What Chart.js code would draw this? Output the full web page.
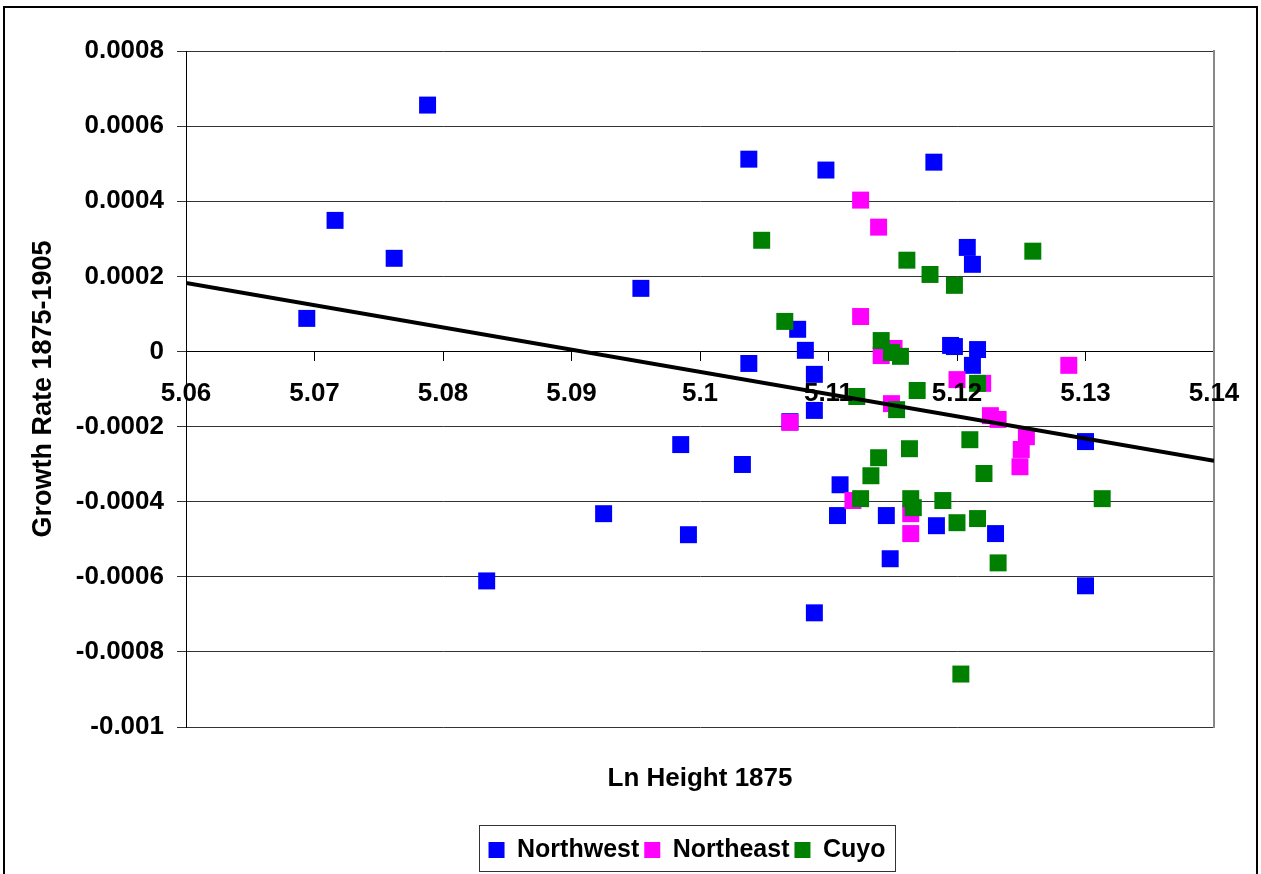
<!DOCTYPE html>
<html>
<head>
<meta charset="utf-8">
<title>Growth Rate 1875-1905 vs Ln Height 1875</title>
<script src="https://cdn.jsdelivr.net/npm/chart.js@4.4.1/dist/chart.umd.min.js"></script>
<style>
  body { margin: 0; background: #fff; }
  canvas { display: block; }
</style>
</head>
<body>
<canvas id="chart" width="1261" height="874"></canvas>
<script>
/* ================= DATA ================= */
const northwestX = [5.0694, 5.0716, 5.0762, 5.0788, 5.0834, 5.0925, 5.0954, 5.0985, 5.0991, 5.1033,
                    5.1038, 5.1038, 5.1076, 5.1082, 5.1089, 5.1089, 5.1098, 5.1070, 5.1109, 5.1107,
                    5.1145, 5.1148, 5.1089, 5.1182, 5.1208, 5.1212, 5.1195, 5.1198, 5.1216, 5.1212,
                    5.1184, 5.1230, 5.1300, 5.1300];
const northwestY = [0.000088, 0.000349, 0.000248, 0.000656, -0.000611, -0.000432, 0.000168, -0.000248, -0.000488, -0.000301,
                    0.000512, -0.000032, 0.000059, 0.000003, -0.000061, -0.000157, 0.000483, -0.000187, -0.000355, -0.000437,
                    -0.000437, -0.000552, -0.000696, 0.000504, 0.000277, 0.000232, 0.000016, 0.000013, 0.000005, -0.000037,
                    -0.000464, -0.000485, -0.000240, -0.000624];

const northeastX = [5.1125, 5.1139, 5.1125, 5.1151, 5.1141, 5.1070, 5.1149, 5.1119, 5.1164, 5.1164,
                    5.1200, 5.1220, 5.1226, 5.1232, 5.1254, 5.1250, 5.1249, 5.1287];
const northeastY = [0.000403, 0.000331, 0.000093, 0.000008, -0.000011, -0.000189, -0.000139, -0.000397, -0.000432, -0.000485,
                    -0.000075, -0.000085, -0.000171, -0.000181, -0.000227, -0.000261, -0.000307, -0.000037];

const cuyoX = [5.1048, 5.1161, 5.1179, 5.1198, 5.1259, 5.1066, 5.1141, 5.1149, 5.1156, 5.1122,
               5.1153, 5.1169, 5.1216, 5.1163, 5.1210, 5.1221, 5.1139, 5.1133, 5.1125, 5.1164,
               5.1166, 5.1189, 5.1200, 5.1216, 5.1232, 5.1203, 5.1313];
const cuyoY = [0.000296, 0.000243, 0.000205, 0.000176, 0.000267, 0.000080, 0.000029, -0.000003, -0.000013, -0.000120,
               -0.000155, -0.000104, -0.000085, -0.000259, -0.000235, -0.000325, -0.000283, -0.000331, -0.000392, -0.000392,
               -0.000416, -0.000397, -0.000456, -0.000445, -0.000563, -0.000859, -0.000392];

// trend line end points
const fitX = [5.06, 5.14];
const fitY = [0.000182, -0.000291];

const xTicks = [5.06, 5.07, 5.08, 5.09, 5.10, 5.11, 5.12, 5.13, 5.14];
const xTickLabels = ["5.06", "5.07", "5.08", "5.09", "5.1", "5.11", "5.12", "5.13", "5.14"];
const yTicks = [-0.001, -0.0008, -0.0006, -0.0004, -0.0002, 0, 0.0002, 0.0004, 0.0006, 0.0008];
const yTickLabels = ["-0.001", "-0.0008", "-0.0006", "-0.0004", "-0.0002", "0", "0.0002", "0.0004", "0.0006", "0.0008"];

function points(xs, ys) {
  return xs.map((x, i) => ({ x: x, y: ys[i] }));
}

/* ================= DEFAULTS ================= */
Chart.defaults.color = "#000";
Chart.defaults.font.family = "'Liberation Sans', Arial, sans-serif";
Chart.defaults.font.weight = "bold";

/* ================= PLUGINS ================= */
const frame = {
  id: "frame",
  afterLayout(chart) {
    // legend sits a little left of the plot centre in the original
    chart.legend.left -= 13;
    chart.legend.right -= 13;
  },
  afterDraw(chart) {
    const ctx = chart.ctx;
    const boxes = chart.legend.legendHitBoxes;
    ctx.save();
    ctx.strokeStyle = "#000";
    ctx.lineWidth = 2;
    ctx.strokeRect(4, 7, 1253, 1000);

    if (boxes.length) {
      const first = boxes[0];
      const last = boxes[boxes.length - 1];
      const mid = first.top + first.height / 2;
      ctx.strokeStyle = "#333";
      ctx.lineWidth = 1;
      ctx.strokeRect(Math.round(first.left - 10) + 0.5, Math.round(mid - 25) + 0.5,
        Math.round(last.left + last.width - first.left + 19), 46);
    }
    ctx.restore();
  }
};

/* ================= CHART ================= */
function square(label, xs, ys, color, order) {
  return {
    label: label,
    data: points(xs, ys),
    backgroundColor: color,
    borderColor: color,
    borderWidth: 0,
    pointStyle: "rect",
    pointRadius: 12,
    order: order
  };
}

new Chart(document.getElementById("chart"), {
  type: "scatter",
  data: {
    datasets: [
      square("Northwest", northwestX, northwestY, "#0000ff", 3),
      square("Northeast", northeastX, northeastY, "#ff00ff", 2),
      square("Cuyo", cuyoX, cuyoY, "#008000", 1),
      {
        label: "Trend",
        data: points(fitX, fitY),
        showLine: true,
        borderColor: "#000",
        borderWidth: 4,
        pointRadius: 0,
        order: 0
      }
    ]
  },
  options: {
    responsive: false,
    animation: false,
    events: [],
    layout: { padding: { top: 51, right: 47, bottom: 1.5, left: 10 } },
    scales: {
      x: {
        type: "linear",
        position: { y: 0 },
        min: 5.06,
        max: 5.14,
        afterBuildTicks: s => { s.ticks = xTicks.map(v => ({ value: v })); },
        grid: { drawOnChartArea: false, tickLength: 9, color: "#000" },
        border: { color: "#000" },
        ticks: {
          z: 1,
          padding: 18,
          autoSkip: false,
          maxRotation: 0,
          font: { size: 26, weight: "bold" },
          callback: (v, i) => xTickLabels[i]
        }
      },
      y: {
        type: "linear",
        min: -0.001,
        max: 0.0008,
        afterBuildTicks: s => { s.ticks = yTicks.map(v => ({ value: v })); },
        afterFit: s => { s.width = 176; },
        grid: { color: "#333", tickLength: 9 },
        border: { color: "#000" },
        ticks: {
          padding: 13,
          autoSkip: false,
          font: { size: 26, weight: "bold" },
          callback: (v, i) => yTickLabels[i]
        },
        title: {
          display: true,
          text: "Growth Rate 1875-1905",
          font: { size: 27, weight: "bold" },
          padding: { top: 17.8, bottom: 0 }
        }
      },
      xt: {
        type: "linear",
        position: "bottom",
        ticks: { display: false },
        grid: { display: false, drawTicks: false },
        border: { display: false },
        title: {
          display: true,
          text: "Ln Height 1875",
          font: { size: 26, weight: "bold" },
          padding: { top: 36.4, bottom: 37.9 }
        }
      },
      yr: {
        type: "linear",
        position: "right",
        ticks: { display: false },
        grid: { display: false, drawTicks: false },
        border: { color: "#888", width: 2 }
      }
    },
    plugins: {
      tooltip: { enabled: false },
      legend: {
        position: "bottom",
        fullSize: false,
        labels: {
          boxWidth: 16,
          boxHeight: 16,
          padding: 5,
          color: "#000",
          font: { size: 25, weight: "bold" },
          filter: item => item.datasetIndex < 3,
          sort: (a, b) => a.datasetIndex - b.datasetIndex
        }
      }
    }
  },
  plugins: [frame]
});
</script>
</body>
</html>
